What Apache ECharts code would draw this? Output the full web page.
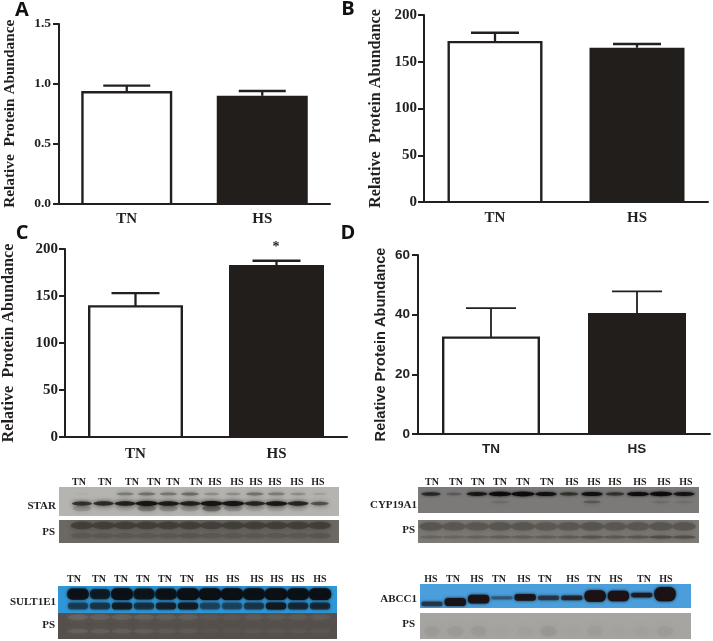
<!DOCTYPE html>
<html><head><meta charset="utf-8">
<style>html,body{margin:0;padding:0;background:#fff}#c{width:713px;height:641px}</style>
<script src="https://cdn.jsdelivr.net/npm/echarts@6/dist/echarts.min.js"></script>
</head><body><div id="c"></div>
<script>
// ---------- bar chart data ----------
const groups = ['TN', 'HS'];
const meansA = [0.93, 0.90];
const upperA = [0.985, 0.94];
const meansB = [171, 165];
const upperB = [181, 169];
const meansC = [139, 183];
const upperC = [153, 187.5];
const meansD = [32.3, 40.6];
const upperD = [42.2, 47.8];
const yTitle = 'Relative  Protein Abundance';
const yTitleD = 'Relative Protein Abundance';

// ---------- blot lane labels and band strengths (0..1) ----------
const lanesStar = ['TN','TN','TN','TN','TN','TN','HS','HS','HS','HS','HS','HS'];
const lanesSult = ['TN','TN','TN','TN','TN','TN','HS','HS','HS','HS','HS','HS'];
const lanesCyp  = ['TN','TN','TN','TN','TN','TN','HS','HS','HS','HS','HS','HS'];
const lanesAbcc = ['HS','TN','HS','TN','HS','TN','HS','TN','HS','TN','HS'];
const starUpper = [0.03,0,0.45,0.55,0.5,0.6,0.3,0.3,0.55,0.45,0.3,0.15];
const starMain  = [0.7,0.75,0.85,0.98,0.9,0.85,0.98,0.98,0.8,0.95,0.8,0.5];
const starLower = [0.25,0.05,0.1,0.5,0.35,0.25,0.75,0.3,0.15,0.15,0.1,0.02];
const starPs    = [0.7,0.7,0.7,0.7,0.7,0.7,0.65,0.7,0.7,0.7,0.7,0.7];
const starPs2   = [0.3,0.3,0.3,0.3,0.3,0.35,0.3,0.3,0.3,0.3,0.3,0.35];
const sultUpper = [0.9,0.75,0.95,0.85,0.9,0.98,1,1,0.95,1,0.95,0.98];
const sultLower = [0.5,0.55,0.85,0.6,0.8,0.9,0.45,0.45,0.55,1,0.7,0.7];
const sultPs    = [0.3,0.25,0.25,0.25,0.2,0.2,0.1,0.1,0.15,0.15,0.15,0.15];
const sultPs2   = [0.25,0.2,0.2,0.2,0.15,0.15,0.08,0.08,0.1,0.1,0.1,0.1];
const cypMain   = [0.6,0.2,0.75,0.95,1,0.85,0.5,0.85,0.5,0.9,0.95,0.8];
const cypMinor  = [0,0,0,0.12,0,0,0,0.35,0,0,0.12,0.1];
const cypPs     = [0.8,0.75,0.75,0.8,0.8,0.7,0.75,0.85,0.75,0.75,0.8,0.8];
const cypPs2    = [0.3,0.3,0.35,0.4,0.4,0.4,0.45,0.6,0.5,0.55,0.75,0.7];
const abccMain  = [0.55,0.95,0.95,0.35,0.9,0.55,0.7,1,1,0.8,1];
const abccPs    = [0.15,0.18,0.18,0.03,0.06,0.22,0.03,0.12,0.03,0.08,0.15];

// ---------- fonts ----------
const SERIF = '"Liberation Serif", serif';
const SANS = '"Liberation Sans", Arial, sans-serif';
const INK = '#231f20';

const grid = [], xAxis = [], yAxis = [], series = [], graphic = [];

function barPanel(o) {
  const i = grid.length;
  grid.push({left:o.x0, top:o.yTop, width:o.x1-o.x0, height:o.y0-o.yTop, containLabel:false});
  xAxis.push({gridIndex:i, type:'category', data:groups, boundaryGap:true, z:6,
    axisLine:{lineStyle:{color:INK,width:2}},
    axisTick:{alignWithLabel:true,length:6,lineStyle:{color:INK,width:2}},
    axisLabel:{color:INK,fontFamily:o.font,fontWeight:'bold',fontSize:o.xSize,margin:o.xMargin},splitLine:{show:false}});
  yAxis.push({gridIndex:i, type:'value', min:0, max:o.max, interval:o.step, z:6,
    axisLine:{show:true,lineStyle:{color:INK,width:2}},
    axisTick:{show:true,length:6,lineStyle:{color:INK,width:2}},
    axisLabel:{color:INK,fontFamily:o.font,fontWeight:'bold',fontSize:o.ySize,margin:o.yMargin,formatter:o.fmt},
    splitLine:{show:false},
    name:o.title,nameLocation:'middle',nameGap:o.nameGap,
    nameTextStyle:{color:INK,fontFamily:o.font,fontWeight:'bold',fontSize:o.nameSize}});
  series.push({type:'bar',xAxisIndex:i,yAxisIndex:i,barWidth:o.barW,silent:true,animation:false,z:2,
    data:o.means.map((v,k)=>({value:v,itemStyle:{color:k===0?'#fff':'#211e1c',borderWidth:0}}))});
  // open-bottomed outline of the white bar and the error whiskers
  series.push({type:'custom',xAxisIndex:i,yAxisIndex:i,silent:true,animation:false,z:4,clip:false,
    encode:{x:0,y:2},
    data:o.means.map((v,k)=>[k,v,o.upper[k]]),
    renderItem:(p,api)=>{
      const k=api.value(0);
      const a=api.coord([k,api.value(1)]), b=api.coord([k,api.value(2)]), z=api.coord([k,0]);
      const st={stroke:INK,lineWidth:o.errW,fill:null};
      const kids=[
        {type:'line',shape:{x1:a[0],y1:a[1],x2:b[0],y2:b[1]},style:st},
        {type:'line',shape:{x1:b[0]-o.cap,y1:b[1],x2:b[0]+o.cap,y2:b[1]},style:st}];
      if(k===0){
        const h=o.barW/2-1.2;
        kids.push({type:'polyline',shape:{points:[[a[0]-h,z[1]],[a[0]-h,a[1]],[a[0]+h,a[1]],[a[0]+h,z[1]]]},
          style:{stroke:INK,lineWidth:2.4,fill:null}});
      }
      return {type:'group',children:kids};
    }});
}

barPanel({x0:59,x1:330,yTop:24,y0:203.5,max:1.5,step:0.5,fmt:v=>v.toFixed(1),means:meansA,upper:upperA,
  barW:91,cap:23.5,errW:2.3,title:yTitle,font:SERIF,nameSize:15.3,nameGap:41,ySize:13.5,xSize:15,yMargin:8,xMargin:8});
barPanel({x0:424,x1:708,yTop:15,y0:202,max:200,step:50,means:meansB,upper:upperB,
  barW:95,cap:24,errW:2.3,title:yTitle,font:SERIF,nameSize:16.2,nameGap:40,ySize:15,xSize:15,yMargin:7,xMargin:9});
barPanel({x0:64,x1:347,yTop:249,y0:437,max:200,step:50,means:meansC,upper:upperC,
  barW:95,cap:24,errW:2.3,title:yTitle,font:SERIF,nameSize:16.2,nameGap:48,ySize:15,xSize:15,yMargin:7,xMargin:10});
barPanel({x0:418,x1:710,yTop:255,y0:434,max:60,step:20,means:meansD,upper:upperD,
  barW:98,cap:25,errW:1.8,title:yTitleD,font:SANS,nameSize:14.6,nameGap:30,ySize:13.5,xSize:13.5,yMargin:8,xMargin:8});

function blotPanel(o) {
  const i = grid.length;
  grid.push({show:true,left:o.x0,top:o.y0,width:o.x1-o.x0,height:o.y1-o.y0,backgroundColor:o.bg,borderWidth:0});
  xAxis.push({gridIndex:i,type:'value',show:false,min:(o.x0-o.lane0)/o.step,max:(o.x1-o.lane0)/o.step});
  yAxis.push({gridIndex:i,type:'value',show:false,min:0,max:1,inverse:true});
  o.bands.forEach(b=>{
    series.push({type:'custom',xAxisIndex:i,yAxisIndex:i,silent:true,animation:false,clip:true,
      encode:{x:0,y:1},
      data:b.values.map((v,k)=>[k,Array.isArray(b.level)?b.level[k]:b.level,v,Array.isArray(b.thick)?b.thick[k]:b.thick]),
      renderItem:(p,api)=>{
        const v=api.value(2); if(!v) return null;
        const c=api.coord([api.value(0),api.value(1)]);
        const w=b.w*o.step*(b.grow?0.6+0.4*v:1);
        const t=api.value(3)*(o.y1-o.y0)*(b.grow?0.5+0.5*v:1);
        const style={fill:b.color,opacity:v,shadowBlur:b.blur==null?4:b.blur,shadowColor:b.color};
        return b.box
          ? {type:'rect',shape:{x:c[0]-w/2,y:c[1]-t/2,width:w,height:t,r:t*0.45},style}
          : {type:'ellipse',shape:{cx:c[0],cy:c[1],rx:w/2,ry:t/2},style};
      }});
  });
}

blotPanel({x0:59,x1:339,y0:487,y1:516,bg:'#b6b4b0',lane0:82,step:21.6,bands:[
  {values:starUpper,level:0.24,thick:0.13,w:1,color:'#4e4b48',grow:true},
  {values:starLower,level:0.74,thick:0.2,w:0.85,color:'#5e5b58'},
  {values:starMain,level:0.57,thick:0.17,w:1.05,color:'#161413',grow:true}]});
blotPanel({x0:59,x1:339,y0:520,y1:543,bg:'#6c6964',lane0:82,step:21.6,bands:[
  {values:starPs,level:0.24,thick:0.32,w:1.05,color:'#3a3632',blur:5},
  {values:starPs2,level:0.68,thick:0.24,w:1.05,color:'#45413d',blur:5}]});
blotPanel({x0:58,x1:337,y0:586,y1:613,bg:'#2f97d8',lane0:78,step:22,bands:[
  {values:sultLower,level:0.74,thick:0.26,w:0.92,color:'#11181f',box:true,blur:3},
  {values:sultUpper,level:0.3,thick:0.44,w:1.02,color:'#0c1014',grow:true,box:true,blur:3}]});
blotPanel({x0:58,x1:337,y0:613,y1:639,bg:'#55504c',lane0:78,step:22,bands:[
  {values:sultPs,level:0.16,thick:0.2,w:0.95,color:'#8a8580',blur:6},
  {values:sultPs2,level:0.7,thick:0.16,w:0.95,color:'#8a8580',blur:6}]});
blotPanel({x0:418,x1:699,y0:487,y1:513,bg:'#7c7a78',lane0:431,step:23,bands:[
  {values:cypMinor,level:0.58,thick:0.1,w:0.75,color:'#2b2927'},
  {values:cypMain,level:0.27,thick:0.17,w:1,color:'#0c0b0a',grow:true,blur:3}]});
blotPanel({x0:418,x1:699,y0:520,y1:543,bg:'#7f7c77',lane0:431,step:23,bands:[
  {values:cypPs,level:0.28,thick:0.36,w:1.02,color:'#55524e',blur:5},
  {values:cypPs2,level:0.74,thick:0.14,w:1.02,color:'#45423e',blur:4}]});
blotPanel({x0:420,x1:691,y0:584,y1:608,bg:'#4a9edb',lane0:432,step:23.3,bands:[
  {values:abccMain,level:[0.83,0.75,0.63,0.58,0.56,0.58,0.58,0.5,0.5,0.46,0.42],
   thick:[0.2,0.34,0.36,0.13,0.28,0.2,0.2,0.48,0.44,0.2,0.6],w:0.92,color:'#1a1214',blur:3,box:true}]});
blotPanel({x0:420,x1:691,y0:613,y1:639,bg:'#a7a5a2',lane0:432,step:23.3,bands:[
  {values:abccPs,level:0.7,thick:0.4,w:0.7,color:'#7d7b78',blur:8}]});

function txt(s,x,y,font,align,fill){
  graphic.push({type:'text',x:x,y:y,silent:true,style:{text:s,font:font,fill:fill||INK,align:align||'center',verticalAlign:'middle'}});
}
const bf = 'bold 10px '+SERIF;
const rowF = 'bold 11px '+SERIF;
[79,105,132,154,173,196,215,237,256,275,297,318].forEach((x,k)=>txt(lanesStar[k],x,482,bf));
[74,99,121,143,165,187,212,233,257,277,298,320].forEach((x,k)=>txt(lanesSult[k],x,579,bf));
[432,456,478,500,523,547,572,594,615,640,664,686].forEach((x,k)=>txt(lanesCyp[k],x,482,bf));
[431,453,477,499,524,545,573,594,616,644,666].forEach((x,k)=>txt(lanesAbcc[k],x,579,bf));
txt('STAR',56,506,rowF,'right'); txt('PS',55,532,rowF,'right');
txt('SULT1E1',56,602,rowF,'right'); txt('PS',55,625,rowF,'right');
txt('CYP19A1',417,505,rowF,'right'); txt('PS',415,530,rowF,'right');
txt('ABCC1',417,599,rowF,'right'); txt('PS',415,624,rowF,'right');
const pf='bold 20px "Open Sans", sans-serif';
txt('A',22,10,pf,'center','#111'); txt('B',348,9,pf,'center','#111');
txt('C',22,233,pf,'center','#111'); txt('D',348,233,pf,'center','#111');
txt('*',276,247,'bold 14px '+SERIF);

const chart = echarts.init(document.getElementById('c'),null,{renderer:'canvas'});
chart.setOption({animation:false,backgroundColor:'#fff',grid,xAxis,yAxis,series,graphic:{elements:graphic}});
</script></body></html>
